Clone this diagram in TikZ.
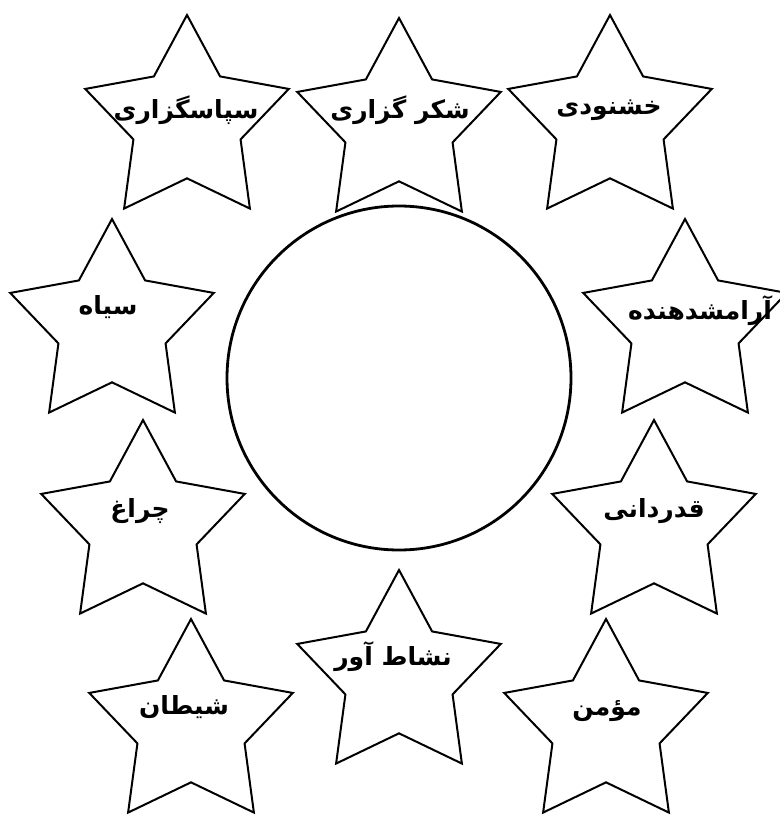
\documentclass[tikz,border=0pt]{standalone}
\usepackage{fontspec}
\newfontfamily\arabicfont[Script=Arabic]{DejaVu Sans}
\TeXXeTstate=1
\usetikzlibrary{shapes.geometric}

\tikzset{
  starbox/.style={draw, shape=star, star points=5, star point ratio=1.9,
    minimum size=214pt, inner sep=0pt, line width=2pt},
  word/.style={inner sep=0pt, font=\arabicfont\bfseries\fontsize{25}{29}\selectfont}
}

\begin{document}
\begin{tikzpicture}[x=1pt, y=-1pt]
			\useasboundingbox (0,0) rectangle (779,821);
			\node [starbox] (s1) at (187,122) {};
			\node [starbox] (s2) at (399,125) {};
			\node [starbox] (s3) at (610,122) {};
			\node [starbox] (s4) at (112,326) {};
			\node [starbox] (s5) at (685,326) {};
			\node [starbox] (s6) at (143,527) {};
			\node [starbox] (s7) at (654,527) {};
			\node [starbox] (s8) at (399,677) {};
			\node [starbox] (s9) at (191,726) {};
			\node [starbox] (s10) at (606,726) {};
			\node [draw, circle, line width=2.8pt, minimum size=344pt, inner sep=0pt] (core) at (399,378) {};
			\node [word] (l1) at (186,110) {\beginR سپاسگزاری\endR};
			\node [word] (l2) at (400,110) {\beginR شکر گزاری\endR};
			\node [word] (l3) at (609,110) {\beginR خشنودی\endR};
			\node [word] (l4) at (108,307) {\beginR سیاه\endR};
			\node [word] (l5) at (700,311) {\beginR آرامشدهنده\endR};
			\node [word] (l6) at (140,511) {\beginR چراغ\endR};
			\node [word] (l7) at (654,511) {\beginR قدردانی\endR};
			\node [word] (l8) at (393,657) {\beginR نشاط آور\endR};
			\node [word] (l9) at (184,707) {\beginR شیطان\endR};
			\node [word] (l10) at (607,711) {\beginR مؤمن\endR};
		\end{tikzpicture}
\end{document}
